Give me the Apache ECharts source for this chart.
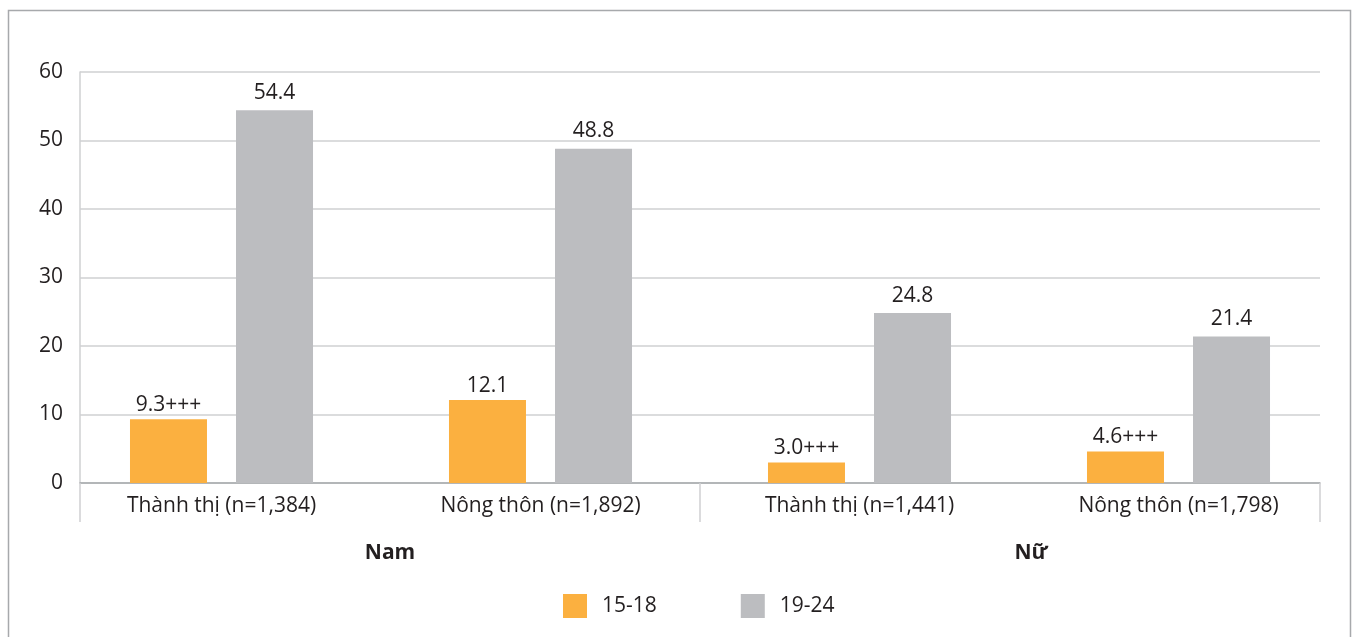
<!DOCTYPE html>
<html>
<head>
<meta charset="utf-8">
<script src="https://cdn.jsdelivr.net/npm/echarts@6/dist/echarts.min.js"></script>
<style>
  html, body { margin: 0; padding: 0; background: #ffffff; }
  #chart { width: 1353px; height: 637px; }
</style>
</head>
<body>
<div id="chart"></div>
<script>
// Sub-groups along the axis, and the gender group each pair of them belongs to
const categories = ['Thành thị (n=1,384)', 'Nông thôn (n=1,892)', 'Thành thị (n=1,441)', 'Nông thôn (n=1,798)'];
const groups = ['Nam', 'Nữ'];

// Percentages per age band
const age15to18 = [9.3, 12.1, 3.0, 4.6];
const age19to24 = [54.4, 48.8, 24.8, 21.4];
// Significance marks appended to the 15-18 values
const age15to18Marks = ['+++', '', '+++', '+++'];

const seriesNames = ['15-18', '19-24'];
const yTicks = { min: 0, max: 60, interval: 10 };

const textColor = '#231f20';
const fontFamily = '"Open Sans", "Noto Sans", sans-serif';
const fs = 21;

const chart = echarts.init(document.getElementById('chart'), null, { renderer: 'canvas' });

chart.setOption({
  animation: false,
  backgroundColor: '#ffffff',
  textStyle: { fontFamily: fontFamily, color: textColor },
  graphic: [{
    type: 'rect',
    silent: true,
    shape: { x: 8.5, y: 10.5, width: 1342, height: 700 },
    style: { fill: 'none', stroke: '#a7a9ac', lineWidth: 1.5 }
  }],
  legend: {
    data: seriesNames,
    bottom: 14,
    left: 558,
    itemWidth: 24,
    itemHeight: 24,
    itemGap: 84,
    icon: 'rect',
    textStyle: { fontSize: fs, color: textColor, fontFamily: fontFamily, padding: [0, 0, 0, 10] }
  },
  grid: [
    // frame grid: value gridlines, left axis and group separators
    { left: 80, right: 33, top: 72, bottom: 154 },
    // bar grid
    { left: 62, right: 15, top: 72, bottom: 154 }
  ],
  xAxis: [
    {
      type: 'category',
      gridIndex: 0,
      data: groups,
      axisLine: { show: true, lineStyle: { color: '#a7a9ac', width: 1.5 } },
      axisTick: { show: true, alignWithLabel: false, interval: 0, length: 39, lineStyle: { color: '#cfd0d2', width: 1.5 } },
      axisLabel: {
        margin: 60,
        interval: 0,
        fontSize: fs,
        fontWeight: 'bold',
        color: textColor,
        fontFamily: fontFamily,
        formatter: function (v, i) { return i === 1 ? '{r|' + v + '}' : v; },
        rich: { r: { fontSize: fs, fontWeight: 'bold', color: textColor, fontFamily: fontFamily, padding: [0, 0, 0, 42] } }
      }
    },
    {
      type: 'category',
      gridIndex: 1,
      data: categories,
      axisLine: { show: false },
      axisTick: { show: false },
      axisLabel: { margin: 13, interval: 0, fontSize: fs, color: textColor, fontFamily: fontFamily }
    }
  ],
  yAxis: [
    {
      type: 'value',
      gridIndex: 0,
      min: yTicks.min,
      max: yTicks.max,
      interval: yTicks.interval,
      axisLine: { show: true, lineStyle: { color: '#cfd0d2', width: 1.5 } },
      axisTick: { show: false },
      axisLabel: { fontSize: fs, color: textColor, margin: 17, fontFamily: fontFamily },
      splitLine: { show: true, lineStyle: { color: '#cfd0d2', width: 1.5 } }
    },
    {
      type: 'value',
      gridIndex: 1,
      min: yTicks.min,
      max: yTicks.max,
      interval: yTicks.interval,
      show: false,
      splitLine: { show: false }
    }
  ],
  series: [
    {
      name: seriesNames[0],
      type: 'bar',
      xAxisIndex: 1,
      yAxisIndex: 1,
      data: age15to18,
      barWidth: 77,
      barGap: '37.7%',
      itemStyle: { color: '#fbb040' },
      label: {
        show: true,
        position: 'top',
        distance: 4,
        fontSize: fs,
        color: textColor,
        fontFamily: fontFamily,
        formatter: function (p) { return p.value.toFixed(1) + age15to18Marks[p.dataIndex]; }
      }
    },
    {
      name: seriesNames[1],
      type: 'bar',
      xAxisIndex: 1,
      yAxisIndex: 1,
      data: age19to24,
      barWidth: 77,
      barGap: '37.7%',
      itemStyle: { color: '#bcbdc0' },
      label: {
        show: true,
        position: 'top',
        distance: 7,
        fontSize: fs,
        color: textColor,
        fontFamily: fontFamily,
        formatter: function (p) { return p.value.toFixed(1); }
      }
    }
  ]
});
</script>
</body>
</html>
